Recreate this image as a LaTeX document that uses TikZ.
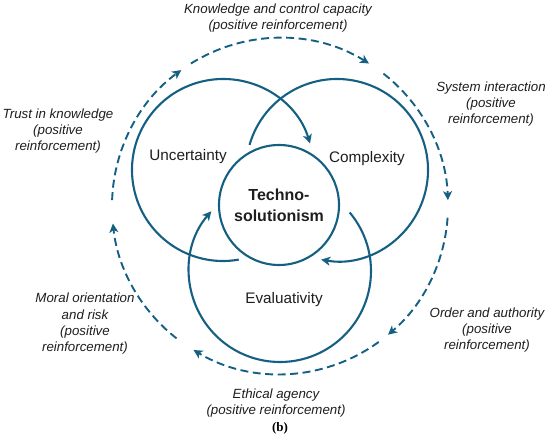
\documentclass[tikz,border=0pt]{standalone}
\usepackage{fontspec}
\setmainfont{Liberation Sans}
\newfontfamily\capfont{Liberation Serif}
\usetikzlibrary{arrows.meta,calc}
\definecolor{ringblue}{HTML}{156082}
\definecolor{inkgray}{HTML}{1E1E1E}
\begin{document}
\begin{tikzpicture}[x=1pt,y=1pt,
  ring/.style={draw=ringblue, line width=2.1pt},
  inarc/.style={draw=ringblue, line width=2.1pt, -{Stealth[length=9pt,width=9pt,inset=2.5pt]}},
  loop/.style={draw=ringblue, line width=1.9pt, dash pattern=on 8pt off 4.5pt, -{Stealth[length=9pt,width=9pt,inset=2.5pt]}},
  lab/.style={font=\fontsize{15.3}{18}\selectfont, text=inkgray},
  note/.style={font=\itshape\fontsize{13.3}{16.3}\selectfont, align=center, text=inkgray},
]
\useasboundingbox (0,0) rectangle (550,440);
\coordinate (U) at (223,270);
\coordinate (X) at (337,270);
\coordinate (E) at (280,169);
\coordinate (O) at (280,234);
% central circle
\node[circle, ring, minimum size=120pt, inner sep=0pt, align=center,
      font=\bfseries\fontsize{16}{21}\selectfont, text=inkgray] (T) at (279,235) {Techno-\\solutionism};
% three feedback arcs
\draw[inarc] ([shift={(280:91)}]U) arc[start angle=280, end angle=17, radius=91];
\draw[inarc] ([shift={(164:91)}]X) arc[start angle=164, end angle=-100, radius=91];
\draw[inarc] ([shift={(40:91)}]E) arc[start angle=40, end angle=-221, radius=91];
% labels
\node[lab] (lu) at (188,283) {Uncertainty};
\node[lab] (lc) at (367,281) {Complexity};
\node[lab] (le) at (284,140) {Evaluativity};
% outer dashed loops
\draw[loop] ([shift={(178:168)}]O) arc[start angle=178, end angle=126, radius=168];
\draw[loop] ([shift={(122:168)}]O) arc[start angle=122, end angle=58, radius=168];
\draw[loop] ([shift={(52:168)}]O) arc[start angle=52, end angle=2, radius=168];
\draw[loop] ([shift={(-4:168)}]O) arc[start angle=-4, end angle=-50, radius=168];
\draw[loop] ([shift={(-54:168)}]O) arc[start angle=-54, end angle=-121, radius=168];
\draw[loop] ([shift={(-128:168)}]O) arc[start angle=-128, end angle=-174, radius=168];
% loop notes
\node[note] (n1) at (278,422) {Knowledge and control capacity\\(positive reinforcement)};
\node[note] (n2) at (491,336) {System interaction\\(positive\\reinforcement)};
\node[note] (n3) at (487,110) {Order and authority\\(positive\\reinforcement)};
\node[note] (n4) at (276,37) {Ethical agency\\(positive reinforcement)};
\node[note] (n5) at (85,116) {Moral orientation\\and risk\\(positive\\reinforcement)};
\node[note] (n6) at (58,309) {Trust in knowledge\\(positive\\reinforcement)};
\node[font=\capfont\bfseries\fontsize{13}{15}\selectfont] (cap) at (280,12) {(b)};
\end{tikzpicture}
\end{document}
